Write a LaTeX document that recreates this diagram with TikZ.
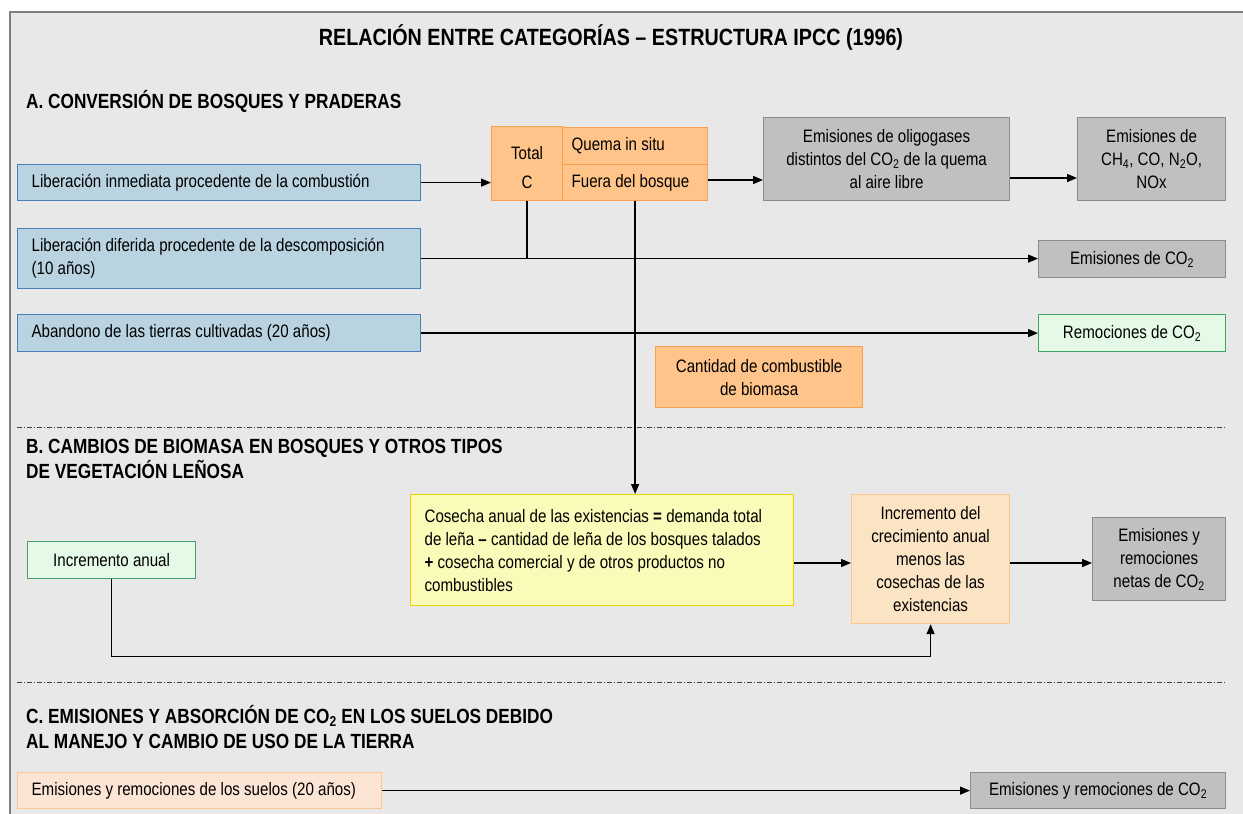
\documentclass[tikz,border=0pt]{standalone}
\usepackage{fontspec}
\setmainfont{Liberation Sans}[FakeStretch=0.84]
\usetikzlibrary{arrows.meta,calc}
\definecolor{bgc}{HTML}{E8E8E8}
\definecolor{framec}{HTML}{808080}
\definecolor{bluef}{HTML}{B9D3E1}
\definecolor{blued}{HTML}{4A7EBB}
\definecolor{orf}{HTML}{FFC48A}
\definecolor{ord}{HTML}{F9A04E}
\definecolor{grf}{HTML}{C0C0C0}
\definecolor{grd}{HTML}{8C8C8C}
\definecolor{grnf}{HTML}{E4FAE6}
\definecolor{grnd}{HTML}{3FA266}
\definecolor{yelf}{HTML}{FAFAB9}
\definecolor{yeld}{HTML}{F0D200}
\definecolor{peachf}{HTML}{FBE4C4}
\definecolor{peachd}{HTML}{FBC690}
\definecolor{pinkf}{HTML}{FDE5D6}
\definecolor{pinkd}{HTML}{FBC690}
\definecolor{dashc}{HTML}{404040}
\begin{document}
\begin{tikzpicture}[x=1pt,y=-1pt,
  every node/.style={font=\fontsize{18}{23}\selectfont, text=black},
  box/.style={draw, line width=1.2pt, inner sep=0pt, anchor=north west, align=center},
  lbox/.style={box, align=flush left, inner xsep=14pt},
  bluebox/.style={lbox, fill=bluef, draw=blued},
  orbox/.style={box, fill=orf, draw=ord},
  graybox/.style={box, fill=grf, draw=grd},
  greenbox/.style={box, fill=grnf, draw=grnd},
  heading/.style={anchor=north west, align=flush left, inner sep=0pt, font=\fontsize{20.5}{25}\selectfont\bfseries},
  conn/.style={line width=1.4pt, -{Triangle[length=10pt,width=8pt]}},
  plain/.style={line width=1.4pt},
  sep/.style={line width=1pt, dashc, dash pattern=on 5pt off 2pt on 1pt off 2pt}
]
\useasboundingbox (0,0) rectangle (1243,814);
\fill[bgc] (10,12) rectangle (1243,814);
\draw[framec, line width=2pt] (10,814) -- (10,12) -- (1243,12);

% title and headings
\node[font=\fontsize{23.5}{26}\selectfont\bfseries] (title) at (611,38) {RELACIÓN ENTRE CATEGORÍAS – ESTRUCTURA IPCC (1996)};
\node[heading] (hA) at (26,90) {A. CONVERSIÓN DE BOSQUES Y PRADERAS};
\node[heading] (hB) at (26,439) {B. CAMBIOS DE BIOMASA EN BOSQUES Y OTROS TIPOS\\DE VEGETACIÓN LEÑOSA};
\node[heading] (hC) at (26,705) {C. EMISIONES Y ABSORCIÓN DE CO\textsubscript{2} EN LOS SUELOS DEBIDO\\AL MANEJO Y CAMBIO DE USO DE LA TIERRA};

% separators
\draw[sep] (17,427) -- (1225,427);
\draw[sep] (17,682) -- (1225,682);

% section A
\node[bluebox, text width=375pt, minimum height=36pt] (l1) at (17,164) {Liberación inmediata procedente de la combustión};
\node[bluebox, text width=375pt, minimum height=60pt] (l2) at (17,228) {Liberación diferida procedente de la descomposición\\(10 años)};
\node[bluebox, text width=375pt, minimum height=37pt] (l3) at (17,314) {Abandono de las tierras cultivadas (20 años)};

\node[orbox, minimum width=71pt, minimum height=74pt] (tc) at (491,126) {};
\node (tct) at ($(tc.center)+(0,-11)$) {Total};
\node (tcc) at ($(tc.center)+(0,19)$) {C};
\node[orbox, align=flush left, inner xsep=9pt, text width=127pt, minimum height=37pt] (qs) at (562,127) {Quema in situ};
\node[orbox, align=flush left, inner xsep=9pt, text width=127pt, minimum height=36pt] (fb) at (562,164) {Fuera del bosque};

\node[graybox, minimum width=246pt, minimum height=83pt] (olig) at (763,117) {Emisiones de oligogases\\distintos del CO\textsubscript{2} de la quema\\al aire libre};
\node[graybox, minimum width=148pt, minimum height=83pt] (ch4) at (1077,117) {Emisiones de\\CH\textsubscript{4}, CO, N\textsubscript{2}O,\\NOx};
\node[graybox, minimum width=187pt, minimum height=37pt] (co2) at (1038,240) {Emisiones de CO\textsubscript{2}};
\node[greenbox, minimum width=187pt, minimum height=37pt] (rem) at (1038,314) {Remociones de CO\textsubscript{2}};
\node[orbox, minimum width=207pt, minimum height=61pt] (cant) at (655,346) {Cantidad de combustible\\de biomasa};

% section B
\node[greenbox, minimum width=168pt, minimum height=37pt] (inc) at (27,541) {Incremento anual};
\node[lbox, fill=yelf, draw=yeld, text width=355pt, minimum height=111pt] (yel) at (410,494) {Cosecha anual de las existencias \textbf{=} demanda total\\de leña \textbf{–} cantidad de leña de los bosques talados\\\textbf{+} cosecha comercial y de otros productos no\\combustibles};
\node[box, fill=peachf, draw=peachd, minimum width=158pt, minimum height=129pt] (crec) at (851,494) {Incremento del\\crecimiento anual\\menos las\\cosechas de las\\existencias};
\node[graybox, minimum width=133pt, minimum height=83pt] (net) at (1092,517) {Emisiones y\\remociones\\netas de CO\textsubscript{2}};

% section C
\node[lbox, fill=pinkf, draw=pinkd, text width=336pt, minimum height=36pt] (suelos) at (17,772) {Emisiones y remociones de los suelos (20 años)};
\node[graybox, minimum width=255pt, minimum height=36pt] (co2b) at (970,772) {Emisiones y remociones de CO\textsubscript{2}};

% connectors
\draw[conn] (l1.east) -- (l1.east -| tc.west);
\coordinate (yb) at (0,180);
\draw[conn] (fb.east |- yb) -- (olig.west |- yb);
\coordinate (ya) at (0,178);
\draw[conn] (olig.east |- ya) -- (ch4.west |- ya);
\draw[conn] (l2.east) -- (l2.east -| co2.west);
\draw[plain] (tc.south) -- (tc.south |- l2.east);
\draw[conn] (l3.east) -- (l3.east -| rem.west);
\draw[conn] (fb.south) -- (fb.south |- yel.north);
\coordinate (ym) at (0,563);
\draw[conn] (yel.east |- ym) -- (crec.west |- ym);
\draw[conn] (crec.east |- ym) -- (net.west |- ym);
\coordinate (k) at ($(crec.south)+(0,32)$);
\draw[conn] (inc.south) |- (k) -- (crec.south);
\draw[conn] (suelos.east) -- (co2b.west);
\end{tikzpicture}
\end{document}
